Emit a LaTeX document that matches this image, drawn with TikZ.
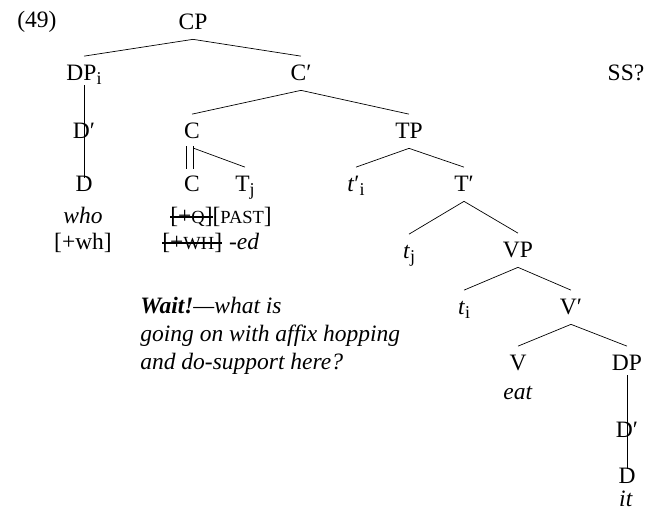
\documentclass[tikz,border=0pt]{standalone}
\usepackage{fontspec}
\setmainfont{Liberation Serif}

% index letters, faked small caps and struck-out features
\newcommand\idx[1]{\raisebox{-0.17em}{\fontsize{18}{18}\selectfont #1}}
\newcommand\fauxsc[1]{{\fontsize{18.5}{20}\selectfont #1}}
\newcommand\struck[1]{\setbox0\hbox{#1}\rlap{\rule[0.27em]{\wd0}{0.06em}}\box0}

\begin{document}
\begin{tikzpicture}[x=1pt,y=-1pt,line width=0.7pt,font=\fontsize{23.5}{28}\selectfont,
    cat/.style={anchor=base,inner sep=0pt,text height=24.5pt,text depth=9pt},
    word/.style={anchor=base,inner sep=0pt},
    thru/.style={shorten <=-5pt,shorten >=-11pt}]
  \useasboundingbox (0,-2) rectangle (664,508);
  \draw
    (37,26) node[word] (ex){(49)}
    (193,28) node[cat] (cp){CP}
    (84,79) node[cat] (dpi){DP\idx{i}}
    (301,79) node[cat] (cbar){C′}
    (626,79) node[word] (ss){SS?}
    (84,137) node[cat] (dbar){D′}
    (192,137) node[cat] (c){C}
    (409,137) node[cat] (tp){TP}
    (84,190) node[cat] (d){D}
    (192,190) node[cat] (cc){C}
    (245,190) node[cat] (tj){T\idx{j}}
    (356,190) node[cat] (tpi){\textit{t}′\idx{i}}
    (464,190) node[cat] (tbar){T′}
    (409,257) node[cat] (tjj){\textit{t}\idx{j}}
    (518,256) node[cat] (vp){VP}
    (464,313) node[cat] (ti){\textit{t}\idx{i}}
    (571,313) node[cat] (vbar){V′}
    (518,369) node[cat] (v){V}
    (627,369) node[cat] (dp){DP}
    (627,435) node[cat] (dpbar){D′}
    (627,481) node[cat] (dd){D};
  % words and features under the heads
  \draw
    (83,222) node[word] (who){\textit{who}}
    (83,248) node[word] (whfeat){[+wh]}
    (170,222) node[word,anchor=base west] (qfeat){\struck{[+\fauxsc{Q}]}[\fauxsc{PAST}]}
    (162,248) node[word,anchor=base west] (edfeat){\struck{[+\fauxsc{WH}]}\hspace{0.3em}\textit{-ed}}
    (518,397) node[word] (eat){\textit{eat}}
    (626,504) node[word] (it){\textit{it}}
    (140,368) node[word,anchor=base west,align=left,font=\fontsize{23.5}{28}\selectfont\itshape] (note)
      {\textbf{Wait!}—what is\\going on with affix hopping\\and do-support here?};
  \begin{scope}
    \draw (cp.south) -- (dpi.north);
    \draw (cp.south) -- (cbar.north);
    \draw[thru] (dpi.south) -- (d.north);
    \draw (cbar.south) -- (c.north);
    \draw (cbar.south) -- (tp.north);
    % C adjoined to C: two parallel strokes
    \draw[shorten <=-2pt,shorten >=-2pt] ([xshift=-6pt]c.south) -- ([xshift=-6pt]cc.north);
    \draw[shorten <=-2pt,shorten >=-2pt] ([xshift=1pt]c.south) -- ([xshift=1pt]cc.north);
    \draw ([xshift=2pt]c.south) -- (tj.north);
    \draw (tp.south) -- (tpi.north);
    \draw (tp.south) -- (tbar.north);
    \draw (tbar.south) -- (tjj.north);
    \draw (tbar.south) -- (vp.north);
    \draw (vp.south) -- (ti.north);
    \draw (vp.south) -- (vbar.north);
    \draw (vbar.south) -- (v.north);
    \draw (vbar.south) -- (dp.north);
    \draw[thru] (dp.south) -- (dd.north);
  \end{scope}
\end{tikzpicture}
\end{document}
